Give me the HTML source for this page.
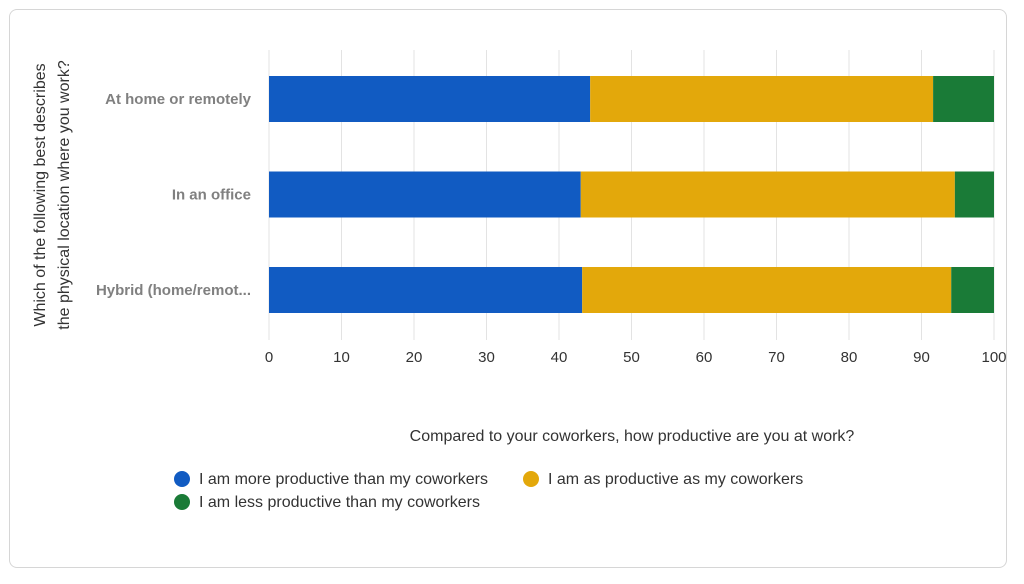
<!DOCTYPE html>
<html><head><meta charset="utf-8"><style>
body{margin:0;background:#fff;font-family:"Liberation Sans","DejaVu Sans",sans-serif;}
#card{position:absolute;left:9px;top:9px;width:998px;height:559px;border:1px solid #d6d6d6;border-radius:8px;box-sizing:border-box;}
</style></head><body>
<div id="card"></div>
<svg id="chart" width="1024" height="584" style="position:absolute;left:0;top:0"></svg>
<script>
const categories=["At home or remotely","In an office","Hybrid (home/remot..."];
const seriesNames=["I am more productive than my coworkers","I am as productive as my coworkers","I am less productive than my coworkers"];
const moreVals=[44.3,43.0,43.2];
const sameVals=[47.3,51.6,50.9];
const lessVals=[8.4,5.4,5.9];
const ticks=[0,10,20,30,40,50,60,70,80,90,100];
const colors=["#115bc2","#e3a80b","#1a7b37"];
const NS="http://www.w3.org/2000/svg";
const svg=document.getElementById('chart');
const x0=269,pxPer=7.25;
const xs=v=>x0+v*pxPer;
const barH=46;
const ys=i=>76+i*95.5;
function el(t,a){const e=document.createElementNS(NS,t);for(const k in a)e.setAttribute(k,a[k]);svg.appendChild(e);return e;}
ticks.forEach(t=>{
 const g=el('line',{x1:xs(t),x2:xs(t),y1:50,y2:340,stroke:'#e3e3e3','stroke-width':1});
 
 
 const l=el('text',{x:xs(t),y:362,'text-anchor':'middle','font-size':15,fill:'#333'});
 l.textContent=t;
 
 
});
const series=[moreVals,sameVals,lessVals];
categories.forEach((c,i)=>{
 let acc=0;
 series.forEach((s,j)=>{
  const r=el('rect',{x:xs(acc),y:ys(i),width:xs(acc+s[i])-xs(acc),height:barH,fill:colors[j]});
  
  
  acc+=s[i];
 });
 const t=el('text',{x:251,y:ys(i)+barH/2+5,'text-anchor':'end','font-size':15,'font-weight':'bold',fill:'#808080'});
 t.textContent=c;
 
 
});
const yt=el('text',{transform:'translate(52,195) rotate(-90)','text-anchor':'middle','font-size':16,fill:'#333'});


const t1=document.createElementNS(NS,'tspan');t1.setAttribute('x',0);t1.setAttribute('dy',-7);t1.textContent='Which of the following best describes';yt.appendChild(t1);
const t2=document.createElementNS(NS,'tspan');t2.setAttribute('x',0);t2.setAttribute('dy',24);t2.textContent='the physical location where you work?';yt.appendChild(t2);
const xt=el('text',{x:632,y:441,'text-anchor':'middle','font-size':16,fill:'#333'});
xt.textContent='Compared to your coworkers, how productive are you at work?';


const lp=[[182,479],[531,479],[182,502]];
seriesNames.forEach((n,j)=>{
 const c=el('circle',{cx:lp[j][0],cy:lp[j][1],r:8,fill:colors[j]});
 
 
 const t=el('text',{x:lp[j][0]+17,y:lp[j][1]+5,'font-size':16,fill:'#333'});
 t.textContent=n;
 
 
});
</script>
</body></html>
